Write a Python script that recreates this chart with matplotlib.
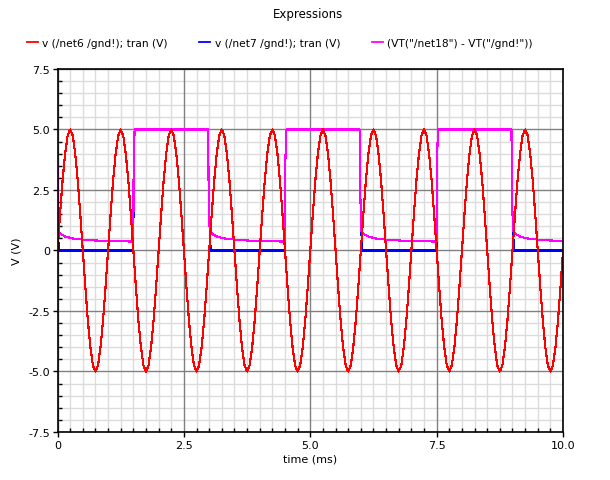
import numpy as np
import matplotlib.pyplot as plt
from matplotlib.ticker import MultipleLocator, FuncFormatter

# red trace: one period of the sine (ms, V); it repeats every 1 ms
sine_t = [0.0, 0.05, 0.10, 0.15, 0.20, 0.25, 0.30, 0.35, 0.40, 0.45,
          0.50, 0.55, 0.60, 0.65, 0.70, 0.75, 0.80, 0.85, 0.90, 0.95]
sine_v = [0.0, 1.5, 2.9, 4.0, 4.75, 5.0, 4.75, 4.0, 2.9, 1.5,
          0.0, -1.5, -2.9, -4.0, -4.75, -5.0, -4.75, -4.0, -2.9, -1.5]
n_periods = 10
t_end = 10.0

# switching edges of the square signals (ms)
rise_times = [1.5, 4.5, 7.5]
fall_times = [3.0, 6.0, 9.0]
high_level = 5.0

# magenta decay after each falling edge (offset ms, V)
decay_dt = [0.0, 0.05, 0.15, 0.28, 0.58, 0.98, 1.48]
decay_v = [0.80, 0.68, 0.57, 0.50, 0.43, 0.39, 0.37]

# intermediate samples on the edges (V)
rise_step_v = 3.5
fall_step_v = 2.3
blue_glitch_v = 0.8
mag_start_v = 3.6

labels = ['v (/net6 /gnd!); tran (V)', 'v (/net7 /gnd!); tran (V)',
          '(VT("/net18") - VT("/gnd!"))']
colors = ['#ff0000', '#0000ff', '#ff00ff']

# ---- build the traces
red_t = np.concatenate([np.array(sine_t) + k for k in range(n_periods)] + [[t_end]])
red_v = np.concatenate([sine_v] * n_periods + [[sine_v[0]]])


def off_segment(t0, t_stop):
    ts, vs = [], []
    for dt, v in zip(decay_dt, decay_v):
        if t0 + dt < t_stop:
            ts.append(t0 + dt)
            vs.append(v)
    return ts, vs


mag_t, mag_v = [0.0], [mag_start_v]
blue_t, blue_v = [0.0, 0.03], [blue_glitch_v, 0.0]
ts, vs = off_segment(0.01, rise_times[0])
mag_t += ts
mag_v += vs
for i, (r, f) in enumerate(zip(rise_times, fall_times)):
    nxt = rise_times[i + 1] if i + 1 < len(rise_times) else t_end
    mag_t += [r, r + 0.005, r + 0.025, f - 0.02, f - 0.01]
    mag_v += [decay_v[-1], rise_step_v, high_level, high_level, fall_step_v]
    blue_t += [r, r + 0.005, r + 0.025, f - 0.02, f - 0.01, f + 0.01, f + 0.03]
    blue_v += [0.0, rise_step_v, high_level, high_level, fall_step_v, blue_glitch_v, 0.0]
    ts, vs = off_segment(f + 0.01, nxt)
    mag_t += ts
    mag_v += vs
mag_t.append(t_end)
mag_v.append(decay_v[-1])
blue_t.append(t_end)
blue_v.append(0.0)

# ---- plot
fig = plt.figure(figsize=(6.10, 4.81), dpi=100)
ax = fig.add_axes([0.0943, 0.0998, 0.8287, 0.7547])

l_blue, = ax.plot(blue_t, blue_v, color=colors[1], lw=0.8, zorder=3, antialiased=False)
l_mag, = ax.plot(mag_t, mag_v, color=colors[2], lw=0.8, zorder=4, antialiased=False)
l_red, = ax.plot(red_t, red_v, color=colors[0], lw=0.8, zorder=5, antialiased=False)

ax.set_xlim(0, 10)
ax.set_ylim(-7.5, 7.5)
ax.xaxis.set_major_locator(MultipleLocator(2.5))
ax.xaxis.set_minor_locator(MultipleLocator(0.25))
ax.yaxis.set_major_locator(MultipleLocator(2.5))
ax.yaxis.set_minor_locator(MultipleLocator(0.5))
fmt = FuncFormatter(lambda v, p: '0' if abs(v) < 1e-9 else '%.1f' % v)
ax.xaxis.set_major_formatter(fmt)
ax.yaxis.set_major_formatter(fmt)

# light minor grid, then the darker major lines on top of it
ax.grid(which='minor', color='#dcdcdc', lw=1.0, zorder=0)
for x in ax.get_xticks()[1:-1]:
    ax.axvline(x, color='#808080', lw=1.0, zorder=1)
for y in ax.get_yticks()[1:-1]:
    ax.axhline(y, color='#808080', lw=1.0, zorder=1)
ax.set_axisbelow(True)
ax.tick_params(which='major', direction='out', length=3.5, width=1, labelsize=8, pad=2)
ax.tick_params(which='minor', direction='in', length=3, width=1)
for s in ax.spines.values():
    s.set_linewidth(1.2)
    s.set_color('black')
    s.set_zorder(6)

ax.set_xlabel('time (ms)', fontsize=8, labelpad=3)
ax.set_ylabel('V (V)', fontsize=8, labelpad=5)

fig.text(0.505, 0.969, 'Expressions', ha='center', va='center', fontsize=8.5)
fig.legend([l_red, l_blue, l_mag], labels, ncol=3, loc='center left',
           bbox_to_anchor=(0.044, 0.9085), frameon=False, fontsize=7.7,
           handlelength=1.0, handletextpad=0.45, columnspacing=2.95,
           borderpad=0, borderaxespad=0)
for h in fig.legends[0].legend_handles:
    h.set_linewidth(1.3)

fig.savefig('out.png', dpi=100)
